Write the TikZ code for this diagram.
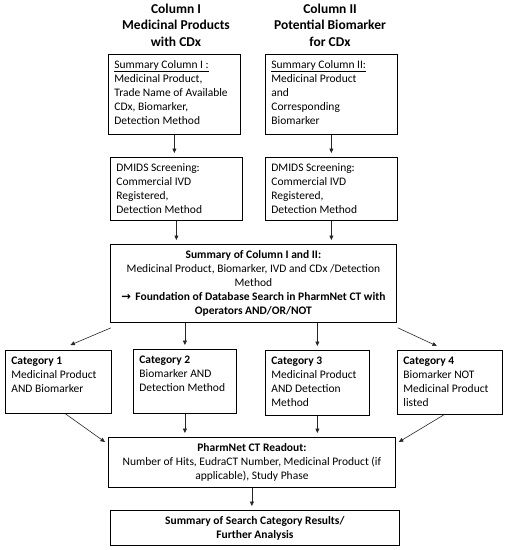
\documentclass[tikz,border=0pt]{standalone}
\usepackage{fontspec}
\setmainfont{Carlito}
\newfontfamily\arrowfont{DejaVu Sans}
\usetikzlibrary{arrows.meta,calc}
\tikzset{
  box/.style={draw=black, line width=0.8pt, inner xsep=6pt, inner ysep=4pt, anchor=north west,
    font=\fontsize{11.5}{14}\selectfont},
  title/.style={align=center, inner sep=0pt, anchor=north, font=\fontsize{13.5}{16.5}\selectfont\bfseries},
  conn/.style={draw=black!85, line width=0.6pt, -{Triangle[length=4.5pt,width=4pt]}, shorten >=4pt},
}
\newcommand\flowbox[7]{%
  \pgfmathsetmacro\bw{#4-#2-12}%
  \pgfmathsetmacro\bh{#5-#3-8}%
  \node[box] (#1) at (#2,-#3) {\parbox[c][\bh pt][t]{\bw pt}{#6\strut#7}};%
}
\begin{document}
\begin{tikzpicture}[x=1pt,y=1pt]
\useasboundingbox (0,0) rectangle (507,-550);
\node[title] (t1) at (176,-1.5) {\strut Column I\\Medicinal Products\\with CDx};
\node[title] (t2) at (330,-1.5) {\strut Column II\\Potential Biomarker\\for CDx};

\flowbox{s1}{108}{54}{240}{134}{\raggedright}{\underline{Summary Column I :}\\Medicinal Product,\\Trade Name of Available\\CDx, Biomarker,\\Detection Method}
\flowbox{s2}{265}{54}{397}{134}{\raggedright}{\underline{Summary Column II:}\\Medicinal Product\\and\\Corresponding\\Biomarker}
\flowbox{d1}{110}{157}{242}{220}{\raggedright}{DMIDS Screening:\\Commercial IVD\\Registered,\\Detection Method}
\flowbox{d2}{265}{157}{397}{220}{\raggedright}{DMIDS Screening:\\Commercial IVD\\Registered,\\Detection Method}
\flowbox{big}{110}{244}{396}{322}{\centering}{\textbf{Summary of Column I and II:}\\Medicinal Product, Biomarker, IVD and CDx /Detection\\Method\\\textbf{{\arrowfont\bfseries\fontsize{11.5}{14}\selectfont →}\, Foundation of Database Search in PharmNet CT with}\\\textbf{Operators AND/OR/NOT}}
\flowbox{c1}{5}{350}{111}{413}{\raggedright}{\textbf{Category 1}\\Medicinal Product\\AND Biomarker}
\flowbox{c2}{133}{349}{236}{413}{\raggedright}{\textbf{Category 2}\\Biomarker AND\\Detection Method}
\flowbox{c3}{265}{350}{369}{415}{\raggedright}{\textbf{Category 3}\\Medicinal Product\\AND Detection\\Method}
\flowbox{c4}{397}{350}{502}{414}{\raggedright}{\textbf{Category 4}\\Biomarker NOT\\Medicinal Product\\listed}
\flowbox{ro}{108}{437}{395}{487}{\centering}{\textbf{PharmNet CT Readout:}\\Number of Hits, EudraCT Number, Medicinal Product (if\\applicable), Study Phase}
\flowbox{fin}{110}{510}{399}{545}{\centering}{\textbf{Summary of Search Category Results/}\\\textbf{Further Analysis}}

\draw[conn] (s1.south) -- (s1.south |- d1.north);
\draw[conn] (s2.south) -- (s2.south |- d2.north);
\draw[conn] (d1.south) -- (d1.south |- big.north);
\draw[conn] (d2.south) -- (d2.south |- big.north);

\coordinate (b1) at ($(big.south west)+(1,-5)$);
\coordinate (b4) at ($(big.south east)+(1,-5)$);
\coordinate (e1) at ($(c1.north)+(12,5)$);
\coordinate (e4) at ($(c4.north)+(-13,4)$);
\draw[conn, shorten >=0pt] (b1) -- (e1);
\draw[conn, shorten >=0pt] (b4) -- (e4);
\draw[conn] (c2.north |- big.south) -- (c2.north);
\draw[conn] (c3.north |- big.south) -- (c3.north);

\coordinate (f1) at ($(c1.south)+(7,0)$);
\coordinate (f4) at ($(c4.south)+(-6,0)$);
\coordinate (g1) at ($(ro.north west)+(-3,-5)$);
\coordinate (g4) at ($(ro.north east)+(3,-5)$);
\draw[conn, shorten >=0pt] (f1) -- (g1);
\draw[conn, shorten >=0pt] (f4) -- (g4);
\draw[conn] (c2.south) -- (c2.south |- ro.north);
\draw[conn] (c3.south) -- (c3.south |- ro.north);
\draw[conn] (ro.south) -- (ro.south |- fin.north);
\end{tikzpicture}
\end{document}
